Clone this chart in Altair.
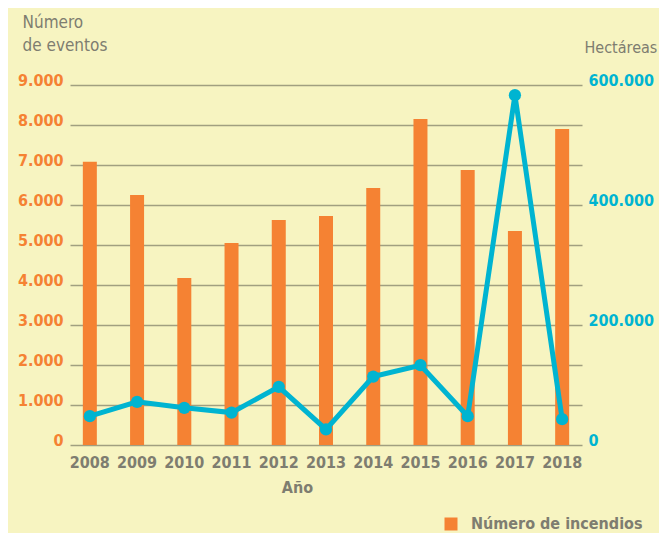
import altair as alt
import pandas as pd

years = ["2008", "2009", "2010", "2011", "2012", "2013", "2014", "2015", "2016", "2017", "2018"]
incendios = [7080, 6250, 4175, 5050, 5625, 5725, 6425, 8150, 6875, 5350, 7900]
hectareas = [48000, 72000, 62000, 54000, 97000, 26000, 114000, 133000, 48000, 583000, 43000]
left_ticks = [0, 1000, 2000, 3000, 4000, 5000, 6000, 7000, 8000, 9000]
right_ticks = [0, 200000, 400000, 600000]
serie = "Número de incendios"

df = pd.DataFrame({"year": years, "inc": incendios, "ha": hectareas, "serie": [serie] * len(years)})

FONT = "DejaVu Sans Condensed, Liberation Sans Narrow, sans-serif"
BG = "#f7f4c1"
ORANGE = "#f58233"
CYAN = "#00b4d1"
GRAY = "#7e7d70"
GRID = "#a19f80"

lab = "replace(format(datum.value, ','), regexp(',', 'g'), '.')"

x = alt.X(
    "year:O",
    scale=alt.Scale(paddingInner=0.70, paddingOuter=0.27),
    axis=alt.Axis(
        title="Año", titleX=227, titleY=47, titleAlign="center", titleBaseline="alphabetic",
        titleFontSize=16, titleFontWeight="bold", titleColor=GRAY, titleFont=FONT,
        labelAngle=0, labelFontSize=16, labelFontWeight="bold", labelColor=GRAY, labelFont=FONT,
        labelPadding=9, ticks=False, domain=False,
    ),
)

bars = alt.Chart(df).mark_bar(size=14).encode(
    x=x,
    y=alt.Y(
        "inc:Q",
        scale=alt.Scale(domain=[0, 9000], nice=False),
        axis=alt.Axis(
            values=left_ticks, labelExpr=lab, grid=True, gridColor=GRID, gridWidth=1.6,
            ticks=False, domain=False,
            labelFontSize=16, labelFontWeight="bold", labelColor=ORANGE, labelFont=FONT,
            labelBaseline="alphabetic", labelPadding=7,
            title=["Número", "de eventos"], titleAngle=0, titleAlign="left", titleBaseline="alphabetic",
            titleX=-48, titleY=-58, titleFontSize=17, titleFontWeight="normal", titleColor=GRAY,
            titleFont=FONT, titleLineHeight=23,
        ),
    ),
    color=alt.Color(
        "serie:N",
        scale=alt.Scale(domain=[serie], range=[ORANGE]),
        legend=alt.Legend(
            title=None, orient="none", legendX=373, legendY=431, symbolType="square",
            symbolSize=169, symbolStrokeWidth=0, symbolOpacity=1, labelFontSize=16,
            labelFontWeight="bold", labelColor=GRAY, labelFont=FONT, labelOffset=12,
            labelLimit=400,
        ),
    ),
)

yr = alt.Y(
    "ha:Q",
    scale=alt.Scale(domain=[0, 600000], nice=False),
    axis=alt.Axis(
        orient="right", values=right_ticks, labelExpr=lab, grid=False, ticks=False, domain=False,
        labelFontSize=16, labelFontWeight="bold", labelColor=CYAN, labelFont=FONT,
        labelBaseline="alphabetic", labelPadding=6,
        title="Hectáreas", titleAngle=0, titleAlign="left", titleBaseline="alphabetic",
        titleX=2, titleY=-33, titleFontSize=16, titleFontWeight="normal", titleColor=GRAY, titleFont=FONT,
    ),
)

line = alt.Chart(df).mark_line(color=CYAN, strokeWidth=5).encode(x=x, y=yr)
pts = alt.Chart(df).mark_circle(color=CYAN, size=150, opacity=1).encode(x=x, y=yr)

right = alt.layer(line, pts)

chart = alt.layer(bars, right).resolve_scale(y="independent").properties(
    width=512, height=360,
    autosize=alt.AutoSizeParams(type="none"),
    padding={"left": 62, "top": 77, "right": 77, "bottom": 88},
    background=BG,
).configure_view(stroke=None)

chart.save("out.html", embed_options={"renderer": "svg", "actions": False})
